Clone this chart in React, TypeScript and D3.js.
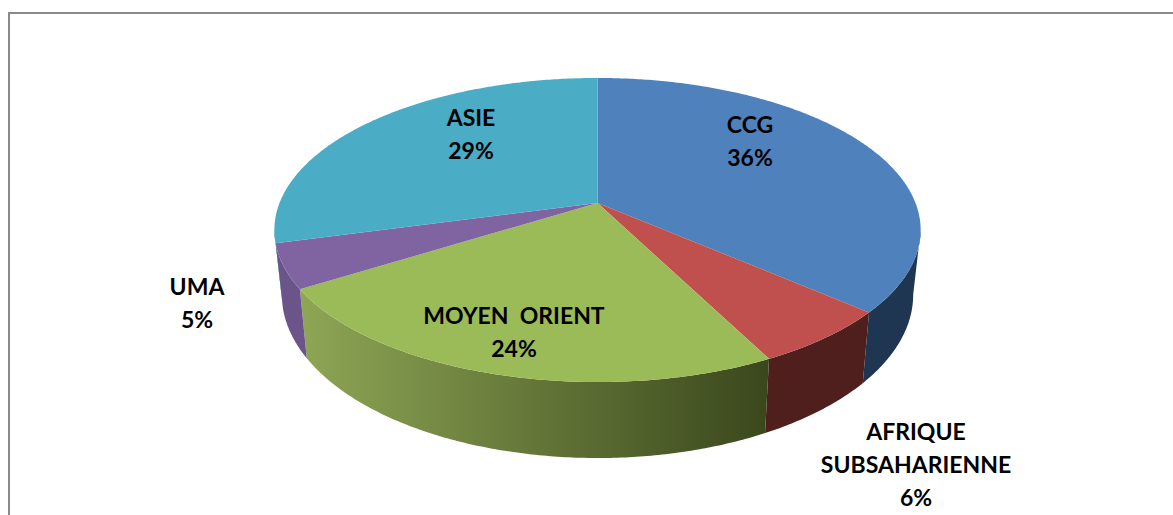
import React from "react";
import * as d3 from "d3";

const categories = ["CCG", "AFRIQUE SUBSAHARIENNE", "MOYEN  ORIENT", "UMA", "ASIE"];
const values = [36.4, 6.1, 23.6, 4.7, 29.2];
const percentLabels = ["36%", "6%", "24%", "5%", "29%"];
const labelLines = [["CCG"], ["AFRIQUE", "SUBSAHARIENNE"], ["MOYEN  ORIENT"], ["UMA"], ["ASIE"]];

const W = 1173;
const H = 515;
const topColors = ["#4f81bd", "#c0504d", "#9bbb59", "#8064a2", "#4bacc6"];
// Wall colour across each slice, from its left end to its right end on screen
const wallStops = [
  ["#1f3652", "#1f3652"],
  ["#4f1f1e", "#4f1f1e"],
  ["#8ea655", "#3a471c"],
  ["#6a5489", "#6a5489"],
  ["#3a7f92", "#3a7f92"],
];
const labelPos: [number, number][] = [
  [750, 133],
  [916, 440],
  [514, 324],
  [197, 295],
  [471, 126],
];

// Perspective projection of the unit disc onto the screen
const CX = 597.5;
const CY = 203;
const K = -0.1776;
const A = 318;
const B = 111.2;
const WALL_X = 0.977;
const WALL_Y = 1.075;
const WALL_Y0 = 47.3;
const TILT = Math.asin(-K); // wall silhouette offset

function topPoint(t: number): [number, number] {
  const u = Math.sin(t);
  const v = -Math.cos(t);
  const w = 1 + K * v;
  return [CX + (A * u) / w, (B * v + CY) / w];
}
function bottomPoint(t: number): [number, number] {
  const [x, y] = topPoint(t);
  return [CX + WALL_X * (x - CX), WALL_Y * y + WALL_Y0];
}
function samples(a: number, b: number): number[] {
  const n = Math.max(2, Math.ceil(Math.abs(b - a) / 0.01));
  return d3.range(n + 1).map((i) => a + ((b - a) * i) / n);
}

const line = d3.line<[number, number]>().x((d) => d[0]).y((d) => d[1]);
const arcs = d3.pie<number>().sort(null).value((d) => d)(values);

const wallFrom = Math.PI / 2 + TILT;
const wallTo = (3 * Math.PI) / 2 - TILT;

export default function App() {
  return (
    <svg
      width={W}
      height={H}
      viewBox={`0 0 ${W} ${H}`}
      style={{ position: "fixed", left: 0, top: 0, background: "#fff" }}
    >
      <defs>
        {arcs.map((a, i) => {
          const xs = [topPoint(a.startAngle)[0], topPoint(a.endAngle)[0]];
          return (
            <linearGradient
              key={i}
              id={`wall${i}`}
              gradientUnits="userSpaceOnUse"
              x1={Math.min(...xs)}
              x2={Math.max(...xs)}
              y1={0}
              y2={0}
            >
              <stop offset="0" stopColor={wallStops[i][0]} />
              <stop offset="1" stopColor={wallStops[i][1]} />
            </linearGradient>
          );
        })}
      </defs>
      <line x1={9} y1={13} x2={W} y2={13} stroke="#8a8a8a" strokeWidth={2} />
      <line x1={9} y1={12} x2={9} y2={H} stroke="#8a8a8a" strokeWidth={2} />

      {arcs.map((a, i) => {
        const s = Math.max(a.startAngle, wallFrom);
        const e = Math.min(a.endAngle, wallTo);
        if (e <= s) return null;
        const ts = samples(s, e);
        const pts = [...ts.map(topPoint), ...ts.slice().reverse().map(bottomPoint)];
        return <path key={i} d={line(pts) + "Z"} fill={`url(#wall${i})`} />;
      })}

      {arcs.map((a, i) => {
        const pts: [number, number][] = [[CX, CY], ...samples(a.startAngle, a.endAngle).map(topPoint)];
        return <path key={i} d={line(pts) + "Z"} fill={topColors[i]} />;
      })}

      <g
        fontFamily="Lato, sans-serif"
        fontWeight={700}
        fontSize={23}
        textAnchor="middle"
        fill="#000"
      >
        {categories.map((c, i) => {
          const lines = [...labelLines[i], percentLabels[i]];
          return (
            <text key={c} x={labelPos[i][0]} y={labelPos[i][1]}>
              {lines.map((l, j) => (
                <tspan key={j} x={labelPos[i][0]} dy={j === 0 ? 0 : 33} xmlSpace="preserve" style={{ whiteSpace: "pre" }}>
                  {l}
                </tspan>
              ))}
            </text>
          );
        })}
      </g>
    </svg>
  );
}
